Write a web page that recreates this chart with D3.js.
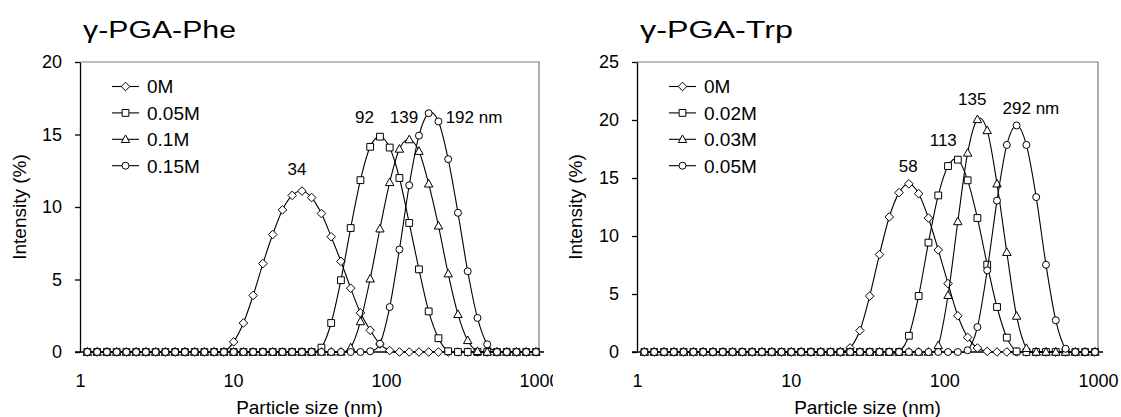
<!DOCTYPE html>
<html><head><meta charset="utf-8">
<script src="https://cdn.jsdelivr.net/npm/d3@7"></script>
<style>
body{margin:0;background:#fff}
svg{display:block}
text{font-family:"Liberation Sans",Arial,Helvetica,sans-serif;fill:#000}
</style>
</head><body>
<svg id="c" width="1121" height="417"></svg>
<script>
// ---- DATA ----
const sizes = [1.117,1.294,1.499,1.736,2.01,2.328,2.696,3.122,3.615,4.187,4.849,5.615,6.503,7.531,8.721,10.1,11.7,13.54,15.69,18.17,21.04,24.36,28.21,32.67,37.84,43.82,50.75,58.77,68.06,78.82,91.28,105.7,122.4,141.8,164.2,190.1,220.2,255.0,295.3,342.0,396.1,458.7,531.2,615.1,712.4,825.0,955.4];

const pheNames = ["0M","0.05M","0.1M","0.15M"];
const phe0M   = [0,0,0,0,0,0,0,0,0,0,0,0,0,0,0,0.7,2.0,3.9,6.1,8.1,9.8,10.8,11.1,10.65,9.55,7.95,6.25,4.4,2.7,1.5,0.55,0.1,0,0,0,0,0,0,0,0,0,0,0,0,0,0,0];
const phe005M = [0,0,0,0,0,0,0,0,0,0,0,0,0,0,0,0,0,0,0,0,0,0,0,0,0.3,2.0,4.95,8.55,11.85,14.15,14.85,14.1,12.0,8.9,5.7,2.8,0.95,0.05,0,0,0,0,0,0,0,0,0];
const phe01M  = [0,0,0,0,0,0,0,0,0,0,0,0,0,0,0,0,0,0,0,0,0,0,0,0,0,0,0,0.3,2.1,5.05,8.5,11.7,14.0,14.65,13.85,11.6,8.7,5.4,2.6,0.8,0.05,0,0,0,0,0,0];
const phe015M = [0,0,0,0,0,0,0,0,0,0,0,0,0,0,0,0,0,0,0,0,0,0,0,0,0,0,0,0,0,0.05,0.57,3.1,7.07,11.5,14.92,16.47,15.9,13.3,9.6,5.57,2.35,0.53,0,0,0,0,0];

const trpNames = ["0M","0.02M","0.03M","0.05M"];
const trp0M   = [0,0,0,0,0,0,0,0,0,0,0,0,0,0,0,0,0,0,0,0,0,0.35,1.85,4.82,8.4,11.64,13.74,14.5,13.65,11.55,8.8,5.9,3.12,1.26,0.35,0.05,0,0,0,0,0,0,0,0,0,0,0];
const trp002M = [0,0,0,0,0,0,0,0,0,0,0,0,0,0,0,0,0,0,0,0,0,0,0,0,0,0,0,1.4,4.83,9.43,13.5,16.03,16.58,14.8,11.55,7.53,3.88,1.24,0.05,0,0,0,0,0,0,0,0];
const trp003M = [0,0,0,0,0,0,0,0,0,0,0,0,0,0,0,0,0,0,0,0,0,0,0,0,0,0,0,0,0,0,0.57,4.89,11.25,17.16,20.05,19.1,14.5,8.6,3.1,0.32,0,0,0,0,0,0,0];
const trp005M = [0,0,0,0,0,0,0,0,0,0,0,0,0,0,0,0,0,0,0,0,0,0,0,0,0,0,0,0,0,0,0,0,0,0.15,2.15,7.04,13.05,17.85,19.53,17.85,13.35,7.52,2.73,0.28,0,0,0];

const xTickValues = [1,10,100,1000];
const pheYTicks = [0,5,10,15,20];
const trpYTicks = [0,5,10,15,20,25];

// peak annotations: [text, size (nm), intensity]
const pheAnnot = [["34",26.2,12.6],["92",72.3,16.2],["139",131,16.2],["192 nm",376,16.2]];
const trpAnnot = [["58",58.2,16.0],["113",98.4,18.3],["135",151.9,21.8],["292 nm",365.9,21.0]];

// ---- DRAWING ----
const svg = d3.select("#c");
const defs = svg.append("defs");
const markerKinds = ["diamond","square","triangle","circle"];

function markerPath(kind){
  switch(kind){
    case "diamond": return "M0,-4.3L4.3,0L0,4.3L-4.3,0Z";
    case "square": return "M-3.4,-3.4H3.4V3.4H-3.4Z";
    case "triangle": return "M0,-4.4L4.2,3.2H-4.2Z";
    default: return d3.arc()({innerRadius:0,outerRadius:3.5,startAngle:0,endAngle:2*Math.PI});
  }
}

function drawChart(cfg){
  const x = d3.scaleLog().domain([1,1000]).range([cfg.x0,cfg.x1]);
  const y = d3.scaleLinear().domain([0,cfg.yMax]).range([cfg.yBot,cfg.yTop]);
  const g = svg.append("g");

  // plot frame (top / right)
  g.append("path").attr("d",`M${cfg.x0},${cfg.yTop}H${cfg.x1}V${cfg.yBot}`)
    .attr("fill","none").attr("stroke","#7a7a7a").attr("stroke-width",1.2);

  // y axis
  const ya = g.append("g").attr("transform",`translate(${cfg.x0},0)`)
    .call(d3.axisLeft(y).tickValues(cfg.yTicks).tickSize(5).tickSizeOuter(0).tickPadding(13));
  ya.select(".domain").attr("stroke","#000").attr("stroke-width",1.3);
  ya.selectAll(".tick line").attr("stroke","#000").attr("stroke-width",1.3);
  ya.selectAll("text").attr("font-size",18).attr("font-family",'"Liberation Sans",Arial,sans-serif').attr("fill","#000");

  // x axis
  const xa = g.append("g").attr("transform",`translate(0,${cfg.yBot})`)
    .call(d3.axisBottom(x).tickValues(xTickValues).tickFormat(d3.format("d")).tickSize(0).tickPadding(22));
  xa.select(".domain").remove();
  xa.selectAll("text").attr("font-size",18).attr("font-family",'"Liberation Sans",Arial,sans-serif').attr("fill","#000");
  if(cfg.clipId){
    // clip coordinates are in the axis group's own (translated) space
    defs.append("clipPath").attr("id",cfg.clipId)
      .append("rect").attr("x",0).attr("y",-10).attr("width",cfg.clipRight).attr("height",80);
    xa.attr("clip-path",`url(#${cfg.clipId})`);
  }
  g.append("line").attr("x1",cfg.x0-5).attr("x2",cfg.x1+5).attr("y1",y(0)).attr("y2",y(0))
    .attr("stroke","#000").attr("stroke-width",1.3);

  // axis titles
  g.append("text").attr("x",(cfg.x0+cfg.x1)/2).attr("y",414).attr("text-anchor","middle")
    .attr("font-size",19).text("Particle size (nm)");
  g.append("text").attr("transform",`translate(${cfg.ylabX},${(cfg.yTop+cfg.yBot)/2}) rotate(-90)`)
    .attr("text-anchor","middle").attr("font-size",19).text("Intensity (%)");

  // chart title
  g.append("text").attr("x",cfg.titleX).attr("y",38).attr("font-size",23)
    .attr("textLength",153).attr("lengthAdjust","spacingAndGlyphs").text(cfg.title);

  // series
  const line = d3.line().x((d,i)=>x(sizes[i])).y(d=>y(d)).curve(d3.curveCardinal.tension(0));
  cfg.series.forEach((vals,si)=>{
    g.append("path").attr("d",line(vals)).attr("fill","none").attr("stroke","#000").attr("stroke-width",1.1);
    g.selectAll(null).data(vals).enter().append("path")
      .attr("transform",(d,i)=>`translate(${x(sizes[i])},${y(d)})`)
      .attr("d",markerPath(markerKinds[si]))
      .attr("fill","#fff").attr("stroke","#000").attr("stroke-width",1);
  });

  // annotations
  cfg.annot.forEach(a=>{
    g.append("text").attr("x",x(a[1])).attr("y",y(a[2])+6).attr("text-anchor","middle")
      .attr("font-size",17).text(a[0]);
  });

  // legend
  cfg.names.forEach((nm,i)=>{
    const cy = 86.5 + i*26.4;
    const lx0 = cfg.x0+32, lx1 = cfg.x0+59;
    g.append("line").attr("x1",lx0).attr("x2",lx1).attr("y1",cy).attr("y2",cy).attr("stroke","#000").attr("stroke-width",1.1);
    g.append("path").attr("transform",`translate(${(lx0+lx1)/2},${cy})`).attr("d",markerPath(markerKinds[i]))
      .attr("fill","#fff").attr("stroke","#000").attr("stroke-width",1);
    g.append("text").attr("x",cfg.x0+67).attr("y",cy+6.8).attr("font-size",19).text(nm);
  });
}

drawChart({x0:80,x1:539,yTop:62,yBot:352,yMax:20,yTicks:pheYTicks,
  series:[phe0M,phe005M,phe01M,phe015M],names:pheNames,annot:pheAnnot,
  title:"γ-PGA-Phe",titleX:83,ylabX:25.5,clipId:"clipL",clipRight:553});
drawChart({x0:637,x1:1098,yTop:62,yBot:352,yMax:25,yTicks:trpYTicks,
  series:[trp0M,trp002M,trp003M,trp005M],names:trpNames,annot:trpAnnot,
  title:"γ-PGA-Trp",titleX:640,ylabX:582});
</script>
</body></html>
